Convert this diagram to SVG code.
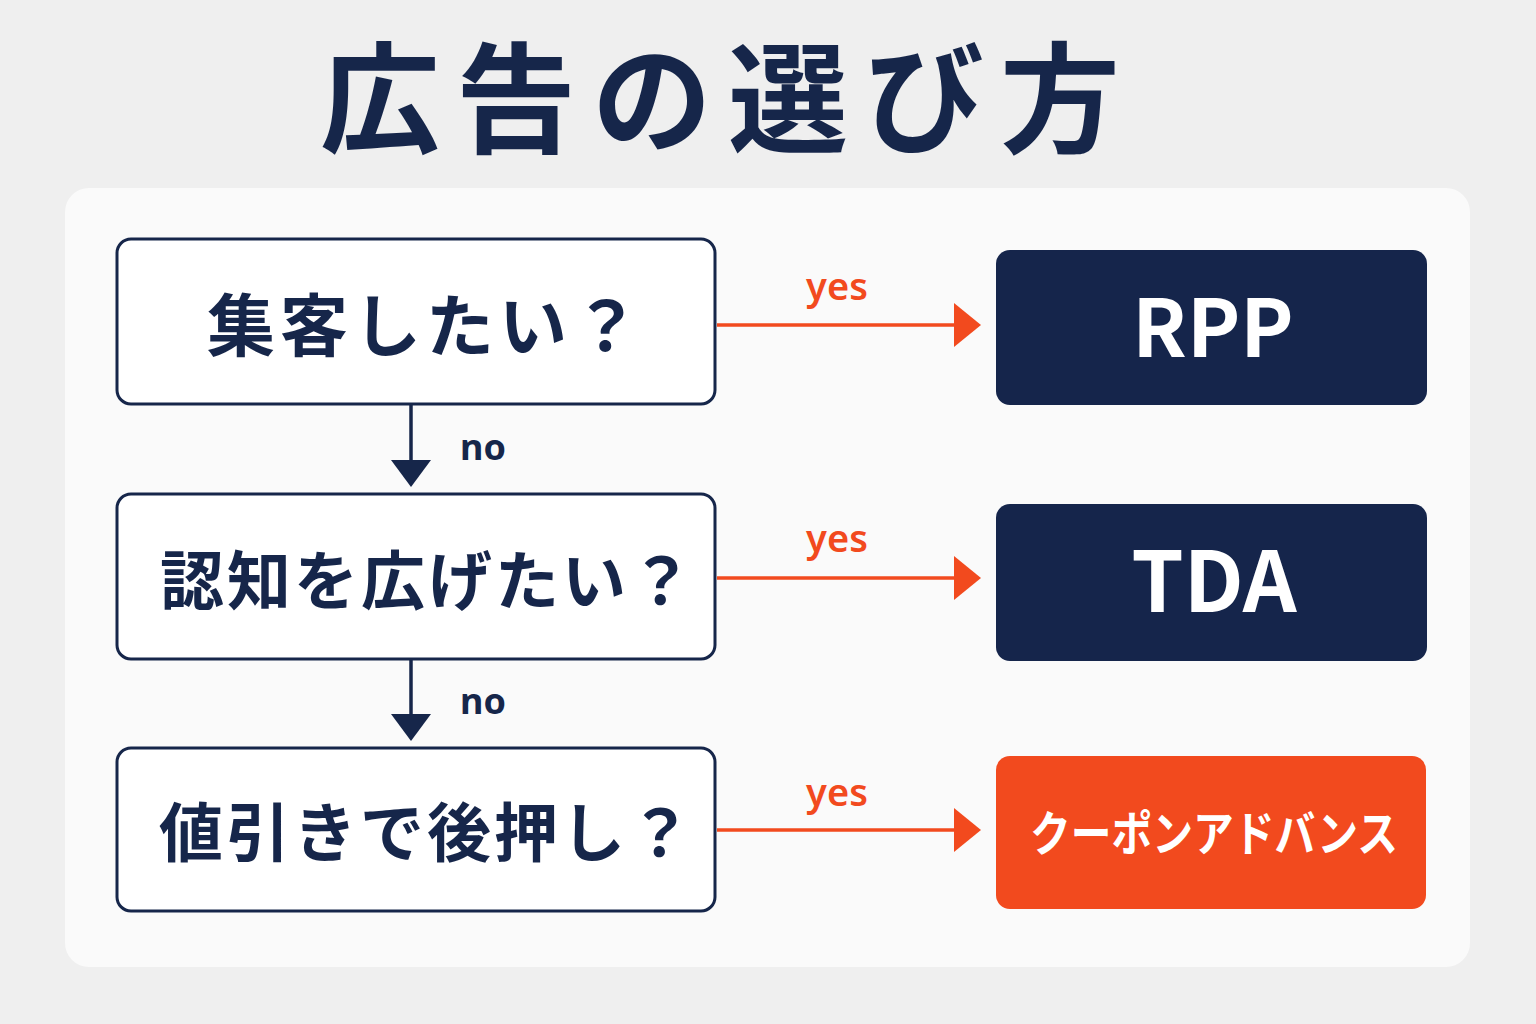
<svg xmlns="http://www.w3.org/2000/svg" width="1536" height="1024" viewBox="0 0 1536 1024">
<defs>
<style>
.jp{font-family:"Noto Sans CJK JP","Noto Sans",sans-serif;font-weight:700}
.q{fill:#ffffff;stroke:#16264a;stroke-width:3}
.navy{fill:#15254b}
.orange{fill:#f24a1e}
.qt{fill:#16264a;text-anchor:middle}
.rt{fill:#ffffff;text-anchor:middle}
.yes{fill:#f24a1e;font-family:"Noto Sans",sans-serif;font-weight:600;font-size:38px;text-anchor:middle}
.no{fill:#16264a;font-family:"Noto Sans",sans-serif;font-weight:700;font-size:36px}
.ly{stroke:#f24a1e;stroke-width:3.5;fill:none}
.ln{stroke:#16264a;stroke-width:3.5;fill:none}
</style>
</defs>
<rect width="1536" height="1024" fill="#efefef"/>
<rect x="65" y="188" width="1405" height="779" rx="24" fill="#fafafa"/>
<text x="728" y="144" class="jp" font-size="120" fill="#16264a" text-anchor="middle" letter-spacing="16">広告の選び方</text>

<g id="connectors">
<line class="ly" x1="717" y1="325" x2="956" y2="325"/>
<polygon fill="#f24a1e" points="954,303 981,325 954,347"/>
<text class="yes" x="837" y="300">yes</text>
<line class="ly" x1="717" y1="578" x2="956" y2="578"/>
<polygon fill="#f24a1e" points="954,556 981,578 954,600"/>
<text class="yes" x="837" y="552">yes</text>
<line class="ly" x1="717" y1="830" x2="956" y2="830"/>
<polygon fill="#f24a1e" points="954,808 981,830 954,852"/>
<text class="yes" x="837" y="806">yes</text>
<line class="ln" x1="411" y1="405" x2="411" y2="464"/>
<polygon fill="#16264a" points="391,460 431,460 411,487"/>
<text class="no" x="460" y="460">no</text>
<line class="ln" x1="411" y1="660" x2="411" y2="718"/>
<polygon fill="#16264a" points="391,714 431,714 411,741"/>
<text class="no" x="460" y="714">no</text>
</g>

<g id="q1">
<rect class="q" x="117" y="239" width="598" height="165" rx="14"/>
<text class="jp qt" x="426" y="351" font-size="68" letter-spacing="5">集客したい？</text>
</g>
<g id="q2">
<rect class="q" x="117" y="494" width="598" height="165" rx="14"/>
<text class="jp qt" x="428" y="604" font-size="64" letter-spacing="3">認知を広げたい？</text>
</g>
<g id="q3">
<rect class="q" x="117" y="748" width="598" height="163" rx="14"/>
<text class="jp qt" x="427" y="856" font-size="64" letter-spacing="3">値引きで後押し？</text>
</g>
<g id="r1">
<rect class="navy" x="996" y="250" width="431" height="155" rx="14"/>
<text class="jp rt" x="1213" y="357" font-size="80">RPP</text>
</g>
<g id="r2">
<rect class="navy" x="996" y="504" width="431" height="157" rx="14"/>
<text class="jp rt" x="1214" y="612" font-size="84">TDA</text>
</g>
<g id="r3">
<rect class="orange" x="996" y="756" width="430" height="153" rx="14"/>
<text class="jp rt" x="1214" y="851" font-size="48" textLength="368" lengthAdjust="spacingAndGlyphs">クーポンアドバンス</text>
</g>
</svg>
